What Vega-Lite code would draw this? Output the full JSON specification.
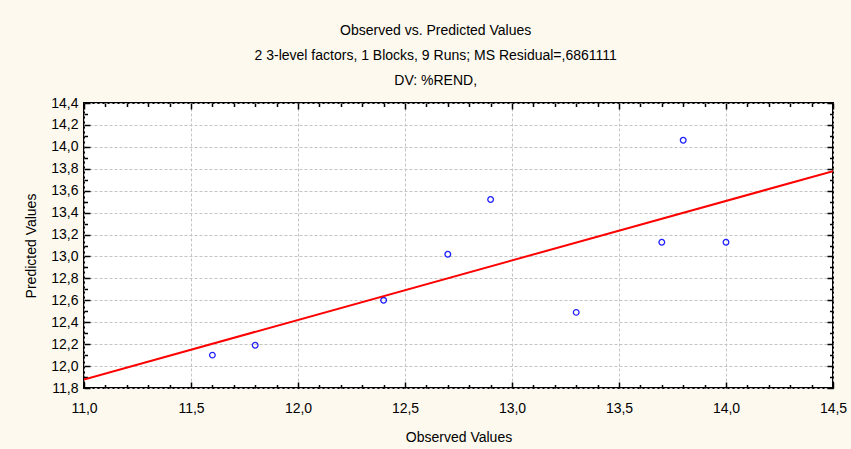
{
  "$schema": "https://vega.github.io/schema/vega-lite/v6.json",
  "autosize": {"type": "none"},
  "width": 749,
  "height": 285,
  "padding": {"left": 84, "top": 103, "right": 18, "bottom": 61},
  "background": "#FDF9EE",
  "config": {
    "font": "Liberation Sans",
    "view": {"fill": "white", "stroke": "black", "strokeWidth": 2},
    "axis": {
      "labelFont": "Liberation Sans",
      "titleFont": "Liberation Sans",
      "labelFontSize": 14,
      "titleFontSize": 14,
      "titleFontWeight": "normal",
      "labelColor": "black",
      "titleColor": "black",
      "domain": false,
      "gridColor": "#C4C4C4",
      "gridDash": [3, 2],
      "gridWidth": 1,
      "tickColor": "black",
      "tickWidth": 1.5
    }
  },
  "title": {
    "text": [
      "Observed vs. Predicted Values",
      "2 3-level factors, 1 Blocks, 9 Runs; MS Residual=,6861111",
      "DV: %REND,"
    ],
    "font": "Liberation Sans",
    "fontSize": 14,
    "fontWeight": "normal",
    "color": "black",
    "lineHeight": 25,
    "anchor": "middle",
    "frame": "bounds",
    "offset": 8
  },
  "data": {
    "values": [
      {"observed": 11.6, "predicted": 12.10},
      {"observed": 11.8, "predicted": 12.19},
      {"observed": 12.4, "predicted": 12.60},
      {"observed": 12.7, "predicted": 13.02},
      {"observed": 12.9, "predicted": 13.52},
      {"observed": 13.3, "predicted": 12.49},
      {"observed": 13.7, "predicted": 13.13},
      {"observed": 13.8, "predicted": 14.06},
      {"observed": 14.0, "predicted": 13.13}
    ]
  },
  "resolve": {"axis": {"x": "independent", "y": "independent"}},
  "layer": [
    {
      "mark": {"type": "point", "filled": false, "color": "#1E1EFF", "size": 32, "strokeWidth": 1.3, "opacity": 1},
      "encoding": {
        "x": {
          "field": "observed", "type": "quantitative",
          "scale": {"domain": [11, 14.5], "nice": false, "zero": false},
          "axis": {
            "orient": "bottom", "title": "Observed Values",
            "values": [11, 11.5, 12, 12.5, 13, 13.5, 14, 14.5],
            "labelExpr": "replace(format(datum.value, '.1f'), '.', ',')",
            "ticks": false, "grid": true, "labelPadding": 13, "titlePadding": 15,
            "labelFlush": false, "labelOverlap": false
          }
        },
        "y": {
          "field": "predicted", "type": "quantitative",
          "scale": {"domain": [11.8, 14.4], "nice": false, "zero": false},
          "axis": {
            "orient": "left", "title": "Predicted Values",
            "values": [11.8, 12, 12.2, 12.4, 12.6, 12.8, 13, 13.2, 13.4, 13.6, 13.8, 14, 14.2, 14.4],
            "labelExpr": "replace(format(datum.value, '.1f'), '.', ',')",
            "ticks": false, "grid": true, "labelPadding": 6, "titlePadding": 12,
            "labelFlush": false, "labelOverlap": false
          }
        }
      }
    },
    {
      "transform": [
        {"regression": "predicted", "on": "observed", "extent": [11, 14.5]}
      ],
      "mark": {"type": "line", "color": "#FF0000", "strokeWidth": 2, "clip": true},
      "encoding": {
        "x": {
          "field": "observed", "type": "quantitative",
          "axis": {
            "orient": "top", "title": null, "labels": false, "grid": false,
            "values": [11, 11.5, 12, 12.5, 13, 13.5, 14, 14.5],
            "ticks": true, "tickSize": -6
          }
        },
        "y": {
          "field": "predicted", "type": "quantitative",
          "axis": {
            "orient": "right", "title": null, "labels": false, "grid": false,
            "values": [11.8, 12, 12.2, 12.4, 12.6, 12.8, 13, 13.2, 13.4, 13.6, 13.8, 14, 14.2, 14.4],
            "ticks": true, "tickSize": -6
          }
        }
      }
    },
    {
      "mark": {"type": "point", "opacity": 0},
      "encoding": {
        "x": {
          "field": "observed", "type": "quantitative",
          "axis": {
            "orient": "bottom", "title": null, "labels": false, "grid": false,
            "values": [11, 11.5, 12, 12.5, 13, 13.5, 14, 14.5],
            "ticks": true, "tickSize": -6
          }
        },
        "y": {
          "field": "predicted", "type": "quantitative",
          "axis": {
            "orient": "left", "title": null, "labels": false, "grid": false,
            "values": [11.8, 12, 12.2, 12.4, 12.6, 12.8, 13, 13.2, 13.4, 13.6, 13.8, 14, 14.2, 14.4],
            "ticks": true, "tickSize": -6
          }
        }
      }
    },
    {
      "mark": {"type": "point", "opacity": 0},
      "encoding": {
        "x": {
          "field": "observed", "type": "quantitative",
          "axis": {
            "orient": "bottom", "title": null, "labels": false, "grid": false,
            "values": [11.1, 11.2, 11.3, 11.4, 11.6, 11.7, 11.8, 11.9, 12.1, 12.2, 12.3, 12.4, 12.6, 12.7, 12.8, 12.9, 13.1, 13.2, 13.3, 13.4, 13.6, 13.7, 13.8, 13.9, 14.1, 14.2, 14.3, 14.4],
            "ticks": true, "tickSize": -3.5
          }
        },
        "y": {
          "field": "predicted", "type": "quantitative",
          "axis": {
            "orient": "left", "title": null, "labels": false, "grid": false,
            "values": [11.9, 12.1, 12.3, 12.5, 12.7, 12.9, 13.1, 13.3, 13.5, 13.7, 13.9, 14.1, 14.3],
            "ticks": true, "tickSize": -3.5
          }
        }
      }
    },
    {
      "mark": {"type": "point", "opacity": 0},
      "encoding": {
        "x": {
          "field": "observed", "type": "quantitative",
          "axis": {
            "orient": "top", "title": null, "labels": false, "grid": false,
            "values": [11.1, 11.2, 11.3, 11.4, 11.6, 11.7, 11.8, 11.9, 12.1, 12.2, 12.3, 12.4, 12.6, 12.7, 12.8, 12.9, 13.1, 13.2, 13.3, 13.4, 13.6, 13.7, 13.8, 13.9, 14.1, 14.2, 14.3, 14.4],
            "ticks": true, "tickSize": -3.5
          }
        },
        "y": {
          "field": "predicted", "type": "quantitative",
          "axis": {
            "orient": "right", "title": null, "labels": false, "grid": false,
            "values": [11.9, 12.1, 12.3, 12.5, 12.7, 12.9, 13.1, 13.3, 13.5, 13.7, 13.9, 14.1, 14.3],
            "ticks": true, "tickSize": -3.5
          }
        }
      }
    }
  ]
}
